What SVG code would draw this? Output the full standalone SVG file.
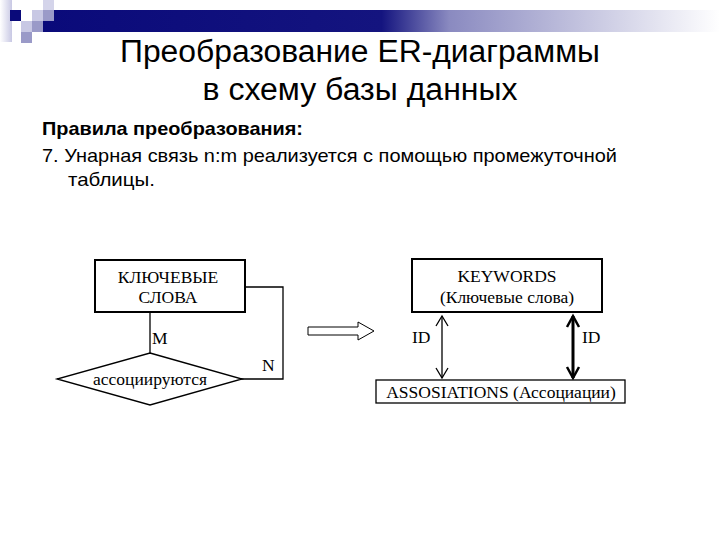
<svg xmlns="http://www.w3.org/2000/svg" width="720" height="540" viewBox="0 0 720 540">
<defs>
<linearGradient id="bar" x1="0" y1="0" x2="1" y2="0">
<stop offset="0" stop-color="#0a0a7a"/>
<stop offset="0.5" stop-color="#14147f"/>
<stop offset="0.6" stop-color="#8a8ac0"/>
<stop offset="1" stop-color="#ffffff"/>
</linearGradient>
<linearGradient id="edge" x1="0" y1="0" x2="1" y2="0">
<stop offset="0" stop-color="#ffffff"/>
<stop offset="1" stop-color="#c8c8e4"/>
</linearGradient>
<style>
.t{font-family:"Liberation Sans",Arial,sans-serif;fill:#000}
.s{font-family:"Liberation Serif","Times New Roman",serif;fill:#000;font-size:17.5px}
.box{fill:#fff;stroke:#000;stroke-width:2}
.ln{fill:none;stroke:#000;stroke-width:1.3}
</style>
</defs>
<g id="decor">
<rect x="0" y="0" width="12" height="42" fill="url(#edge)"/>
<rect x="43" y="10" width="677" height="22" fill="url(#bar)"/>
<rect x="10" y="10" width="11" height="11" fill="#0a0a7a"/>
<rect x="32" y="10" width="11" height="11" fill="#c8c8e4"/>
<rect x="43" y="0" width="11" height="10" fill="#d4d4ea"/>
<rect x="43" y="10" width="11" height="11" fill="#9a9ac8"/>
<rect x="21" y="21" width="11" height="11" fill="#c8c8e4"/>
<rect x="32" y="21" width="11" height="11" fill="#9a9ac8"/>
<rect x="21" y="32" width="11" height="11" fill="#9a9ac8"/>
</g>
<g id="title">
<text class="t" x="360" y="62" font-size="31" text-anchor="middle" textLength="480" lengthAdjust="spacingAndGlyphs">Преобразование ER-диаграммы</text>
<text class="t" x="360" y="100" font-size="31" text-anchor="middle" textLength="315" lengthAdjust="spacingAndGlyphs">в схему базы данных</text>
</g>
<g id="body">
<text class="t" x="42" y="135" font-size="19" font-weight="bold" textLength="261" lengthAdjust="spacingAndGlyphs">Правила преобразования:</text>
<text class="t" x="42" y="162" font-size="19" textLength="575" lengthAdjust="spacingAndGlyphs">7. Унарная связь n:m реализуется с помощью промежуточной</text>
<text class="t" x="68" y="186" font-size="19" textLength="87" lengthAdjust="spacingAndGlyphs">таблицы.</text>
</g>
<g id="connectors">
<polyline class="ln" points="245,287 283,287 283,379 241,379"/>
<line class="ln" x1="150" y1="312" x2="150" y2="353"/>
<path d="M308,327 H358 V322 L374,331 L358,340 V335 H308 Z" fill="#fff" stroke="#000" stroke-width="1"/>
<line x1="442" y1="316" x2="442" y2="378" stroke="#000" stroke-width="1.3"/>
<polyline class="ln" points="436,326 442,316 448,326"/>
<polyline class="ln" points="436,368 442,378 448,368"/>
<line x1="573" y1="316" x2="573" y2="378" stroke="#000" stroke-width="3"/>
<polyline fill="none" stroke="#000" stroke-width="2.5" points="567,327 573,316 579,327"/>
<polyline fill="none" stroke="#000" stroke-width="2.5" points="567,367 573,378 579,367"/>
</g>
<g id="keywords-er">
<rect class="box" x="95" y="260" width="150" height="52"/>
<text class="s" x="168" y="283" text-anchor="middle">КЛЮЧЕВЫЕ</text>
<text class="s" x="168" y="303" text-anchor="middle">СЛОВА</text>
</g>
<g id="relationship">
<polygon points="150,353 242,379 150,405 57,379" fill="#fff" stroke="#000" stroke-width="1.3"/>
<text class="s" x="150" y="385" text-anchor="middle">ассоциируются</text>
</g>
<g id="labels">
<text class="s" x="152" y="344">M</text>
<text class="s" x="262" y="371">N</text>
<text class="s" x="412" y="343">ID</text>
<text class="s" x="582" y="343">ID</text>
</g>
<g id="keywords-table">
<rect class="box" x="412" y="259" width="190" height="53"/>
<text class="s" x="507" y="282" text-anchor="middle">KEYWORDS</text>
<text class="s" x="507" y="303" text-anchor="middle">(Ключевые слова)</text>
</g>
<g id="assosiations">
<rect x="376" y="380" width="249" height="23" fill="#fff" stroke="#000" stroke-width="1.3"/>
<text class="s" x="501" y="398" text-anchor="middle">ASSOSIATIONS (Ассоциации)</text>
</g>
</svg>
